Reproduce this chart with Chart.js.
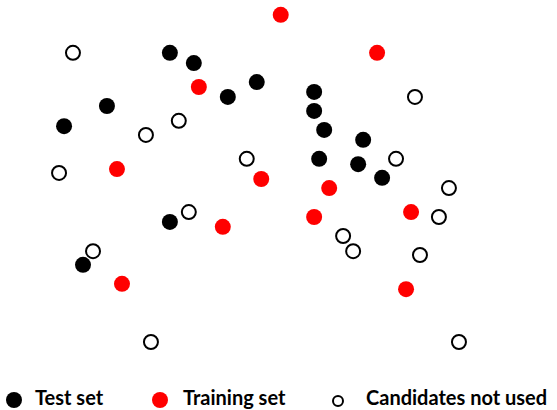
<!DOCTYPE html>
<html>
<head>
<meta charset="utf-8">
<script src="https://cdn.jsdelivr.net/npm/chart.js@4"></script>
<style>
  html, body { margin: 0; padding: 0; background: #fff; }
  #wrap { position: relative; width: 557px; height: 410px; }
  #plot { position: absolute; left: 0; top: 0; width: 557px; height: 380px; }
  #legend { position: absolute; left: 0; top: 386px; width: 557px; height: 22px;
    font-family: Lato, "Liberation Sans", sans-serif; font-weight: bold; font-size: 20px; color: #000; }
  .item { position: absolute; top: 0; left: 0; height: 22px; line-height: 22px; white-space: nowrap; }
  .dot { position: absolute; border-radius: 50%; box-sizing: border-box; }
  .lbl { position: absolute; top: 0; }
</style>
</head>
<body>
<div id="wrap">
  <div id="plot"><canvas id="scatterChart"></canvas></div>
  <div id="legend"></div>
</div>
<script>
// values on a 0-100 scale in both directions (no axes in the original)
const testX = [30.5, 34.8, 19.2, 11.5, 40.9, 46.1, 56.4, 56.4, 58.2, 65.2, 57.3, 64.3, 68.6, 30.5, 14.9];
const testY = [86.1, 83.4, 72.1, 66.8, 74.5, 78.4, 75.8, 70.8, 65.8, 63.2, 58.2, 56.8, 53.2, 41.6, 30.3];

const trainX = [50.4, 67.7, 35.7, 21.0, 46.9, 59.1, 56.4, 73.8, 40.0, 21.9, 72.9];
const trainY = [96.1, 86.1, 77.1, 55.5, 52.9, 50.5, 42.9, 44.2, 40.3, 25.3, 23.9];

const unusedX = [13.1, 74.5, 26.2, 32.1, 44.3, 10.6, 71.1, 80.6, 78.8, 33.9, 61.6, 63.4, 16.7, 75.4, 27.1, 82.4];
const unusedY = [86.1, 74.5, 64.5, 68.2, 58.2, 54.5, 58.2, 50.5, 42.9, 44.2, 37.9, 33.9, 33.9, 32.9, 10.0, 10.0];

const seriesNames = ["Test set", "Training set", "Candidates not used"];

function toPoints(xs, ys) {
  return xs.map((x, i) => ({ x: x, y: ys[i] }));
}

const scatterChart = new Chart(document.getElementById("scatterChart"), {
  type: "scatter",
  data: {
    datasets: [
      {
        label: seriesNames[0],
        data: toPoints(testX, testY),
        backgroundColor: "#000000",
        borderWidth: 0,
        pointRadius: 8,
        pointHoverRadius: 8,
      },
      {
        label: seriesNames[1],
        data: toPoints(trainX, trainY),
        backgroundColor: "#ff0000",
        borderWidth: 0,
        pointRadius: 8,
        pointHoverRadius: 8,
      },
      {
        label: seriesNames[2],
        data: toPoints(unusedX, unusedY),
        backgroundColor: "#ffffff",
        borderColor: "#000000",
        borderWidth: 2,
        pointRadius: 7,
        pointHoverRadius: 7,
      },
    ],
  },
  options: {
    responsive: true,
    maintainAspectRatio: false,
    animation: false,
    layout: { padding: 0, autoPadding: false },
    plugins: { legend: { display: false }, tooltip: { enabled: false } },
    scales: {
      x: { display: false, min: 0, max: 100 },
      y: { display: false, min: 0, max: 100 },
    },
  },
});

// legend built from the datasets
const legendPos = [
  { dotX: 6, dotY: 6, size: 16, text: 35 },
  { dotX: 152, dotY: 6, size: 16, text: 183 },
  { dotX: 332, dotY: 9, size: 12, text: 366 },
];
const legendEl = document.getElementById("legend");
scatterChart.data.datasets.forEach((ds, i) => {
  const p = legendPos[i];
  const item = document.createElement("div");
  item.className = "item";
  const dot = document.createElement("span");
  dot.className = "dot";
  dot.style.left = p.dotX + "px";
  dot.style.top = p.dotY + "px";
  dot.style.width = p.size + "px";
  dot.style.height = p.size + "px";
  dot.style.background = ds.backgroundColor;
  if (ds.borderWidth) dot.style.border = "2px solid " + ds.borderColor;
  const lbl = document.createElement("span");
  lbl.className = "lbl";
  lbl.style.left = p.text + "px";
  lbl.textContent = ds.label;
  item.appendChild(dot);
  item.appendChild(lbl);
  legendEl.appendChild(item);
});
</script>
</body>
</html>
